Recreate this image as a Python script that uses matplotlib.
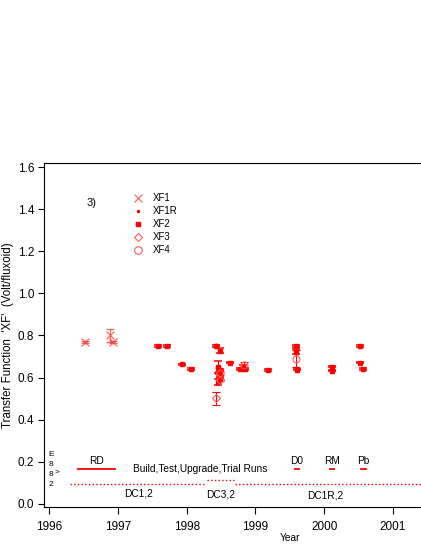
import matplotlib
matplotlib.use('Agg')
import matplotlib.pyplot as plt
from matplotlib.lines import Line2D

plt.rcParams['font.family'] = ['Liberation Sans', 'DejaVu Sans']

# ---------------- data ----------------
xf1_year = [1996.52, 1996.89, 1996.93]
xf1_val = [0.770, 0.800, 0.770]
xf1_err = [0.004, 0.030, 0.004]

xf1r_year = [1996.52, 1996.93, 1998.43, 1999.59]
xf1r_val = [0.770, 0.768, 0.755, 0.750]

xf2_year = [1997.58, 1997.71, 1997.94, 1998.06, 1998.43, 1998.48, 1998.45,
            1998.48, 1998.47, 1998.49, 1998.46, 1998.63, 1998.78, 1998.82,
            1998.85, 1999.19, 1999.595, 1999.595, 1999.60, 2000.12, 2000.12,
            2000.52, 2000.52, 2000.57]
xf2_val = [0.750, 0.750, 0.663, 0.640, 0.750, 0.728, 0.650,
           0.635, 0.620, 0.600, 0.580, 0.671, 0.640, 0.645,
           0.640, 0.636, 0.750, 0.722, 0.638, 0.652, 0.632,
           0.750, 0.670, 0.640]
xf2_err = [0.003, 0.003, 0.003, 0.003, 0.004, 0.010, 0.030,
           0.004, 0.004, 0.004, 0.015, 0.003, 0.004, 0.015,
           0.003, 0.004, 0.004, 0.012, 0.003, 0.003, 0.003,
           0.005, 0.003, 0.006]

xf3_year = [1998.43, 1998.49, 1998.48]
xf3_val = [0.501, 0.620, 0.590]
xf3_err = [0.030, 0.010, 0.005]

xf4_year = [1998.83, 1999.59]
xf4_val = [0.660, 0.690]
xf4_err = [0.015, 0.040]

run_names = ['RD', 'D0', 'RM', 'Pb']
run_start = [1996.42, 1999.58, 2000.08, 2000.53]
run_end = [1996.96, 1999.63, 2000.14, 2000.61]
run_level = 0.164

dc_names = ['DC1,2', 'DC3,2', 'DC1R,2']
dc_start = [1996.30, 1998.30, 1998.70]
dc_end = [1998.28, 1998.69, 2001.45]
dc_level = [0.094, 0.113, 0.094]

x_ticks = [1996, 1997, 1998, 1999, 2000, 2001]
y_ticks = [0.0, 0.2, 0.4, 0.6, 0.8, 1.0, 1.2, 1.4, 1.6]

# ---------------- figure ----------------
RED = '#ff0000'
PINK = '#ff5a5a'
FS = 7.3

fig = plt.figure(figsize=(4.21, 5.45), dpi=100)
ax = fig.add_axes([44 / 421, 38.3 / 545, 377 / 421, 343.7 / 545])

ax.errorbar(xf1_year, xf1_val, yerr=xf1_err, fmt='x', color=PINK, ms=6,
            mew=0.8, ecolor=PINK, elinewidth=0.8, capsize=2.8, capthick=0.9)
ax.plot(xf1r_year, xf1r_val, '.', color=RED, ms=3.5)
ax.errorbar(xf2_year, xf2_val, yerr=xf2_err, fmt='s', color=RED, ms=3.4,
            ecolor=RED, elinewidth=0.8, capsize=2.8, capthick=1.1)
ax.errorbar(xf3_year, xf3_val, yerr=xf3_err, fmt='D', mfc='none', mec=PINK,
            ms=4.5, mew=0.8, ecolor=RED, elinewidth=0.8, capsize=2.8, capthick=1.1)
ax.errorbar(xf4_year, xf4_val, yerr=xf4_err, fmt='o', mfc='none', mec=PINK,
            ms=5, mew=0.8, ecolor=RED, elinewidth=0.8, capsize=2.8, capthick=1.1)

# run periods
for name, s, e in zip(run_names, run_start, run_end):
    ax.plot([s, e], [run_level, run_level], '-', color=RED, lw=1.3)
    ax.text((s + e) / 2, run_level + 0.013, name, ha='center', va='bottom',
            fontsize=FS)
ax.text(1998.20, 0.165, 'Build,Test,Upgrade,Trial Runs', ha='center',
        va='center', fontsize=FS)

for name, s, e, lv in zip(dc_names, dc_start, dc_end, dc_level):
    ax.plot([s, e], [lv, lv], ':', color=RED, lw=1.0)
dc_label_x = [1997.30, 1998.50, 2000.02]
dc_label_y = [0.050, 0.046, 0.040]
for name, lx, ly in zip(dc_names, dc_label_x, dc_label_y):
    ax.text(lx, ly, name, ha='center', va='center', fontsize=FS)

# small stacked characters at left
for ch, yy in zip(['E', '8', '8', '2'], [0.236, 0.184, 0.137, 0.089]):
    ax.text(1996.025, yy, ch, ha='center', va='center', fontsize=6)
ax.text(1996.116, 0.152, '>', ha='center', va='center', fontsize=6)

ax.text(1996.62, 1.43, '3)', ha='center', va='center', fontsize=8)

# legend
handles = [
    Line2D([], [], ls='none', marker='x', color=PINK, ms=6, mew=0.8),
    Line2D([], [], ls='none', marker='.', color=RED, ms=3),
    Line2D([], [], ls='none', marker='s', color=RED, ms=3),
    Line2D([], [], ls='none', marker='D', mfc='none', mec=PINK, ms=4.5, mew=0.8),
    Line2D([], [], ls='none', marker='o', mfc='none', mec=PINK, ms=5.5, mew=0.8),
]
ax.legend(handles, ['XF1', 'XF1R', 'XF2', 'XF3', 'XF4'], loc='upper left',
          bbox_to_anchor=(0.2366, 0.912), frameon=False, fontsize=7,
          handlelength=1.0, handletextpad=1.05, labelspacing=0.3,
          borderpad=0, borderaxespad=0)

ax.set_xlim(1995.927, 2001.407)
ax.set_ylim(-0.0143, 1.620)
ax.set_xticks(x_ticks)
ax.set_yticks(y_ticks)
ax.set_yticklabels(['%.1f' % v for v in y_ticks])
ax.tick_params(axis='x', direction='out', length=5, width=0.8, labelsize=8.5, pad=5)
ax.tick_params(axis='y', direction='out', length=4, width=0.8, labelsize=8.5, pad=3)
ax.spines['right'].set_visible(False)
for sp in ['left', 'bottom', 'top']:
    ax.spines[sp].set_linewidth(0.8)

fig.text(8 / 421, 1 - 335 / 545, "Transfer Function  'XF'  (Volt/fluxoid)",
         rotation=90, ha='center', va='center', fontsize=8.3)
fig.text(290 / 421, 1 - 538 / 545, 'Year', ha='center', va='center',
         fontsize=FS)

fig.savefig('out.png', dpi=100)
